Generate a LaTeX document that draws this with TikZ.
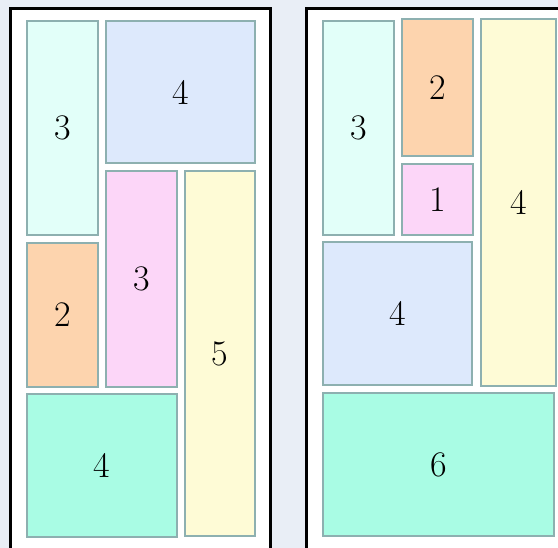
\documentclass[tikz,border=0pt]{standalone}
\definecolor{bgc}{HTML}{E9EEF6}
\definecolor{edgec}{HTML}{8DB0B0}
\definecolor{cyanc}{HTML}{E2FFF9}
\definecolor{bluec}{HTML}{DDE9FC}
\definecolor{pinkc}{HTML}{FCD6F8}
\definecolor{yellowc}{HTML}{FEFBD6}
\definecolor{orangec}{HTML}{FDD4AE}
\definecolor{greenc}{HTML}{A9FCE4}
\begin{document}
\begin{tikzpicture}[x=1pt,y=-1pt,
  tile/.style={draw=edgec,line width=2.4pt,inner sep=0pt,outer sep=0pt,
    font=\fontsize{36}{42}\selectfont},
  panel/.style={draw=black,line width=3pt,fill=white}]
\useasboundingbox (0,0) rectangle (558,548);
\fill[bgc] (0,0) rectangle (558,548);
\begin{scope}
\clip (0,0) rectangle (558,548);
\draw[panel] (10.8,8.3) rectangle (270,570);
\draw[panel] (306.5,8.3) rectangle (580,570);
% left panel
\node[tile,fill=cyanc,minimum width=70.6pt,minimum height=213.6pt] (lc) at (62.5,128) {3};
\node[tile,fill=bluec,minimum width=148.6pt,minimum height=141.6pt] (lb) at (180.5,92) {4};
\node[tile,fill=pinkc,minimum width=70.6pt,minimum height=215.6pt] (lp) at (141.5,279) {3};
\node[tile,fill=yellowc,minimum width=69.6pt,minimum height=364.6pt] (ly) at (220,353.5) {5};
\node[tile,fill=orangec,minimum width=70.6pt,minimum height=143.6pt] (lo) at (62.5,315) {2};
\node[tile,fill=greenc,minimum width=149.6pt,minimum height=142.6pt] (lg) at (102,465.5) {4};
% right panel
\node[tile,fill=cyanc,minimum width=70.6pt,minimum height=213.6pt] (rc) at (358.5,128) {3};
\node[tile,fill=orangec,minimum width=70.6pt,minimum height=136.6pt] (ro) at (437.5,87.5) {2};
\node[tile,fill=pinkc,minimum width=70.6pt,minimum height=70.6pt] (rp) at (437.5,199.5) {1};
\node[tile,fill=yellowc,minimum width=74.6pt,minimum height=366.6pt] (ry) at (518.5,202.5) {4};
\node[tile,fill=bluec,minimum width=148.6pt,minimum height=142.6pt] (rb) at (397.5,313.5) {4};
\node[tile,fill=greenc,minimum width=230.6pt,minimum height=142.6pt] (rg) at (438.5,464.5) {6};
\end{scope}
\end{tikzpicture}
\end{document}
